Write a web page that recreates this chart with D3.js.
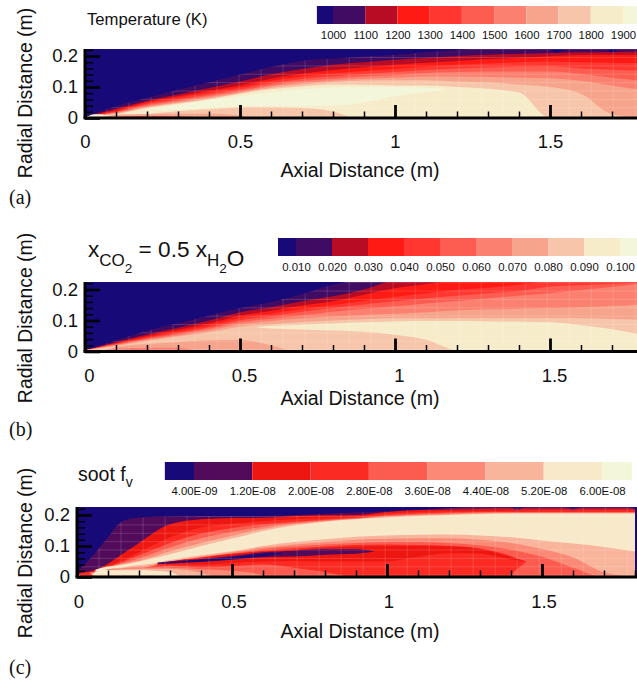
<!DOCTYPE html>
<html>
<head>
<meta charset="utf-8">
<script src="https://cdn.jsdelivr.net/npm/d3@7"></script>
<style>
  html, body { margin: 0; padding: 0; background: #fff; }
  svg { display: block; }
  text { font-family: "Liberation Sans", Arial, sans-serif; fill: #111; }
  .serif { font-family: "Liberation Serif", "Times New Roman", serif; }
</style>
</head>
<body>
<svg width="637" height="680"></svg>
<script>
var svg = d3.select("svg");

// level colours, low to high
const tempColors = ["#170a78", "#400b62", "#b80c25", "#ff1a13", "#ff3730", "#fd5d50", "#fb8070", "#f7a48c", "#f7c6aa", "#f7ecca", "#f4f6da"];
const sootColors = ["#170a78", "#520b5a", "#ee1610", "#fb2a22", "#fc5c50", "#fa8a76", "#f9b49c", "#f7e9c9", "#f4f6da"];

const majorX = [0, 0.5, 1, 1.5];
const minorX = [0.1, 0.2, 0.3, 0.4, 0.6, 0.7, 0.8, 0.9, 1.1, 1.2, 1.3, 1.4, 1.6, 1.7, 1.8];
const majorY = [0, 0.1, 0.2];
const minorY = [0.02, 0.04, 0.06, 0.08, 0.12, 0.14, 0.16, 0.18, 0.22];

// legend tick values and cell edges
const tempTicks = [1000, 1100, 1200, 1300, 1400, 1500, 1600, 1700, 1800, 1900];
const tempEdges = [950, 1000, 1100, 1200, 1300, 1400, 1500, 1600, 1700, 1800, 1900, 1943];
const co2Ticks = [0.01, 0.02, 0.03, 0.04, 0.05, 0.06, 0.07, 0.08, 0.09, 0.1];
const co2Edges = [0.005, 0.01, 0.02, 0.03, 0.04, 0.05, 0.06, 0.07, 0.08, 0.09, 0.1, 0.1047];
const sootTicks = [4e-9, 1.2e-8, 2e-8, 2.8e-8, 3.6e-8, 4.4e-8, 5.2e-8, 6e-8];
const sootEdges = [0, 4e-9, 1.2e-8, 2e-8, 2.8e-8, 3.6e-8, 4.4e-8, 5.2e-8, 6e-8, 6.41e-8];

// (a) temperature: radial top of each level at the stations
const tempX = [0, 0.1, 0.2, 0.3, 0.4, 0.5, 0.6, 0.7, 0.8, 0.9, 1, 1.1, 1.2, 1.3, 1.4, 1.5, 1.6, 1.7, 1.8];
const tempTop1 = [.004, .038, .065, .091, .115, .14, .165, .185, .192, .198, .204, .212, .22, .224, .224, .224, .224, .224, .224];
const tempTop2 = [.004, .03, .056, .076, .097, .118, .141, .158, .172, .18, .188, .194, .2, .204, .207, .21, .212, .213, .215];
const tempTop3 = [.004, .026, .052, .07, .088, .105, .127, .143, .155, .164, .172, .178, .184, .19, .194, .199, .203, .204, .204];
const tempTop4 = [.004, .022, .048, .065, .082, .098, .119, .134, .144, .152, .158, .165, .172, .176, .18, .182, .18, .178, .177];
const tempTop5 = [.004, .02, .044, .06, .076, .092, .112, .126, .135, .142, .148, .155, .16, .163, .165, .167, .16, .156, .153];
const tempTop6 = [.004, .018, .04, .056, .071, .087, .106, .119, .127, .134, .138, .145, .148, .15, .15, .15, .142, .13, .12];
const tempTop7 = [.004, .016, .037, .052, .067, .083, .102, .113, .121, .127, .13, .134, .134, .132, .13, .128, .12, .105, .09];
const tempTop8 = [.004, .014, .034, .048, .063, .08, .097, .108, .116, .121, .122, .122, .118, .115, .108, .1, .078, .012, 0];
const tempTop9 = [.004, .012, .032, .046, .06, .078, .093, .102, .108, .107, .105, .105, .1, .094, .082, 0, 0, 0, 0];
const tempLensX = [.2, .3, .4, .5, .6, .7, .8, .9, 1, 1.1, 1.17];
const tempLensHi = [.026, .043, .057, .07, .083, .092, .098, .1, .1, .097, .093];
const tempLensLo = [.026, .027, .033, .038, .038, .038, .04, .05, .07, .085, .093];
const tempCore8X = [.12, .2, .3, .4, .5, .6, .7, .8, .86];
const tempCore8 = [0, .012, .022, .028, .034, .035, .032, .021, 0];
const tempCore7X = [.05, .1, .2, .3, .4, .5, .55];
const tempCore7 = [0, .011, .013, .014, .014, .008, 0];
const tempCore6X = [.05, .15, .3, .38];
const tempCore6 = [0, .0065, .007, 0];
const tempStripX = [.07, .15, .3, .36];
const tempStrip = [0, .005, .004, 0];
const tempTipX = [.01, .03, .06];
const tempTipHi = [.006, .012, .011];
const tempTipLo = [.004, .004, .007];
const tempBlipX = [1.5, 1.52, 1.56, 1.68, 1.7, 1.72];
const tempBlipLo = [.224, .21, .224, .224, .212, .224];

// (b) CO2 / H2O
const co2X = [0, 0.1, 0.2, 0.3, 0.4, 0.5, 0.6, 0.7, 0.8, 0.9, 1, 1.1, 1.2, 1.3, 1.4, 1.5, 1.6, 1.7, 1.8];
const co2Top1 = [.004, .036, .067, .091, .116, .14, .16, .185, .215, .23, .23, .23, .23, .23, .23, .23, .23, .23, .23];
const co2Top2 = [.004, .03, .055, .077, .1, .127, .143, .162, .178, .2, .228, .23, .23, .23, .23, .23, .23, .23, .23];
const co2Top3 = [.004, .028, .05, .07, .09, .116, .131, .148, .162, .183, .204, .217, .228, .23, .23, .23, .23, .23, .23];
const co2Top4 = [.004, .026, .046, .064, .083, .108, .122, .137, .15, .163, .177, .188, .199, .206, .215, .228, .23, .23, .23];
const co2Top5 = [.004, .024, .043, .06, .078, .1, .114, .128, .14, .152, .162, .172, .18, .188, .195, .21, .214, .218, .222];
const co2Top6 = [.004, .022, .04, .056, .073, .094, .106, .117, .128, .138, .146, .155, .163, .172, .18, .188, .198, .208, .22];
const co2Top7 = [.004, .02, .037, .052, .068, .087, .098, .107, .113, .118, .122, .127, .132, .136, .138, .14, .143, .147, .152];
const co2Top8 = [.004, .018, .034, .048, .062, .08, .088, .095, .1, .104, .107, .107, .108, .108, .108, .108, .107, .105, .102];
const co2LensX = [.55, .6, .7, .8, .9, 1, 1.1, 1.2, 1.3, 1.4, 1.5, 1.6, 1.7, 1.8];
const co2LensHi = [.078, .082, .086, .09, .094, .097, .098, .098, .097, .096, .094, .085, .072, .052];
const co2LensLo = [.078, .074, .071, .068, .064, .054, .038, .004, 0, 0, 0, 0, 0, 0];
const co2Core7X = [.06, .1, .2, .3, .4, .5, .6, .67];
const co2Core7 = [0, .014, .024, .03, .036, .037, .02, 0];
const co2Core6X = [.04, .1, .2, .3, .36];
const co2Core6 = [0, .01, .012, .012, 0];
const co2StripX = [.06, .15, .3, .34];
const co2Strip = [0, .006, .004, 0];

// (c) soot volume fraction
const sootX = [0, .05, .1, .14, .2, .3, .4, .5, .6, .7, .8, .9, 1, 1.1, 1.2, 1.3, 1.4, 1.5, 1.6, 1.7, 1.8];
const sootTop1 = [.018, .068, .128, .176, .192, .195, .197, .197, .197, .2, .204, .208, .212, .217, .222, .228, .23, .23, .23, .23, .23];
const sootTop2 = [.01, .02, .043, .07, .11, .17, .186, .19, .191, .197, .199, .2, .21, .216, .218, .219, .22, .22, .22, .22, .22];
const sootTop3 = [.008, .018, .036, .052, .08, .128, .16, .172, .18, .186, .19, .195, .205, .21, .212, .213, .214, .215, .215, .215, .215];
const sootTop4 = [.006, .016, .033, .046, .07, .11, .14, .158, .17, .178, .185, .19, .2, .205, .208, .21, .21, .21, .21, .21, .21];
const sootTop5 = [.005, .014, .031, .043, .06, .095, .125, .145, .162, .173, .182, .189, .197, .202, .205, .207, .208, .208, .208, .208, .208];
const sootTop6 = [.004, .012, .029, .04, .052, .083, .11, .133, .155, .17, .18, .187, .194, .199, .202, .205, .206, .206, .206, .206, .206];
const sootCreamX = [.06, .08, .14, .2, .3, .4, .5, .6, .7, .8, .9, 1, 1.1, 1.2, 1.3, 1.4, 1.5, 1.6, 1.7, 1.8];
const sootCream = [.024, .03, .038, .05, .073, .1, .124, .148, .166, .178, .186, .192, .197, .2, .203, .205, .205, .205, .205, .205];
const sootUnderX = [.06, .1, .14, .18, .22, .3, .4, .5, .6, .7, .8, .9, 1, 1.1, 1.2, 1.3, 1.4, 1.5, 1.6, 1.7, 1.8];
const sootUnder6 = [.02, .026, .03, .036, .04, .055, .07, .083, .1, .113, .122, .13, .134, .136, .137, .134, .128, .118, .108, .097, .082];
const sootUnder5 = [.012, .02, .026, .032, .035, .05, .066, .08, .095, .105, .113, .12, .123, .125, .125, .12, .11, .09, .063, .015, 0];
const sootUnder4 = [.008, .016, .022, .027, .03, .048, .063, .076, .09, .098, .105, .11, .113, .113, .11, .102, .088, .065, .03, 0, 0];
const sootLens3X = [.1, .22, .3, .4, .5, .6, .7, .8, .9, 1, 1.1, 1.2, 1.3, 1.38, 1.42, 1.45];
const sootLens3Hi = [.02, .03, .046, .06, .072, .085, .092, .098, .103, .105, .103, .1, .092, .074, .06, .05];
const sootLens3Lo = [.02, .03, .036, .032, .035, .04, .03, .016, 0, 0, 0, 0, 0, 0, .026, .05];
const sootLens2X = [.25, .3, .4, .5, .6, .7, .8, .9, 1, 1.1, 1.2, 1.3, 1.38, 1.45];
const sootLens2Hi = [.04, .05, .063, .075, .082, .088, .094, .098, .1, .1, .099, .09, .07, .05];
const sootLens2Lo = [.04, .04, .04, .045, .05, .052, .05, .05, .05, .065, .077, .076, .06, .05];
const sootLens1X = [.26, .35, .42, .5, .6, .7, .8, .9, .96];
const sootLens1Hi = [.047, .054, .06, .068, .08, .085, .09, .09, .082];
const sootLens1Lo = [.041, .046, .05, .056, .064, .066, .072, .075, .082];
const sootLens0X = [.3, .4, .5, .6, .66];
const sootLens0Hi = [.047, .056, .064, .075, .078];
const sootLens0Lo = [.045, .05, .057, .067, .076];
const sootBed5X = [.04, .1, .2, .3, .4, .5, .6, .62];
const sootBed5 = [0, .025, .03, .03, .025, .02, .006, 0];
const sootBed6X = [.05, .1, .2, .3, .4, .44];
const sootBed6 = [0, .022, .026, .026, .014, 0];
const sootSpotX = [.01, .03, .05];
const sootSpot = [.012, .016, .006];
const sootStripX = [.05, .08, .1, .2, .3, .33];
const sootStripHi = [.006, .028, .022, .022, .016, .003];
const sootStripLo = [.006, .006, .006, .005, .003, .003];
const sootBlipX = [1.2, 1.3, 1.38, 1.42, 1.46, 1.56, 1.6, 1.64, 1.76, 1.8];
const sootBlipLo = [.23, .23, .23, .218, .23, .23, .218, .23, .23, .218];

const meshX = d3.range(0, 1.8, 0.071);
const meshY = d3.range(0.006, 0.23, 0.027);

// one painted band, from lo (or the axis) up to hi
function layer(c, xs, hi, lo) {
  return {
    color: c,
    pts: xs.map((x, i) => ({ x: x, hi: hi[i], lo: lo ? lo[i] : 0 }))
  };
}

const tc = tempColors, sc = sootColors;

const tempLayers = [
  layer(tc[1], tempX, tempTop1), layer(tc[2], tempX, tempTop2), layer(tc[3], tempX, tempTop3),
  layer(tc[4], tempX, tempTop4), layer(tc[5], tempX, tempTop5), layer(tc[6], tempX, tempTop6),
  layer(tc[7], tempX, tempTop7), layer(tc[8], tempX, tempTop8), layer(tc[9], tempX, tempTop9),
  layer(tc[10], tempLensX, tempLensHi, tempLensLo),
  layer(tc[8], tempCore8X, tempCore8), layer(tc[7], tempCore7X, tempCore7),
  layer(tc[6], tempCore6X, tempCore6), layer(tc[3], tempStripX, tempStrip),
  layer(tc[10], tempTipX, tempTipHi, tempTipLo),
  layer(tc[0], tempBlipX, tempBlipX.map(() => .224), tempBlipLo)
];

const co2Layers = [
  layer(tc[1], co2X, co2Top1), layer(tc[2], co2X, co2Top2), layer(tc[3], co2X, co2Top3),
  layer(tc[4], co2X, co2Top4), layer(tc[5], co2X, co2Top5), layer(tc[6], co2X, co2Top6),
  layer(tc[7], co2X, co2Top7), layer(tc[8], co2X, co2Top8),
  layer(tc[9], co2LensX, co2LensHi, co2LensLo),
  layer(tc[7], co2Core7X, co2Core7), layer(tc[6], co2Core6X, co2Core6),
  layer(tc[3], co2StripX, co2Strip)
];

const sootLayers = [
  layer(sc[1], sootX, sootTop1), layer(sc[2], sootX, sootTop2), layer(sc[3], sootX, sootTop3),
  layer(sc[4], sootX, sootTop4), layer(sc[5], sootX, sootTop5), layer(sc[6], sootX, sootTop6),
  layer(sc[7], sootCreamX, sootCream),
  layer(sc[6], sootUnderX, sootUnder6), layer(sc[5], sootUnderX, sootUnder5), layer(sc[4], sootUnderX, sootUnder4),
  layer(sc[3], sootLens3X, sootLens3Hi, sootLens3Lo), layer(sc[2], sootLens2X, sootLens2Hi, sootLens2Lo),
  layer(sc[1], sootLens1X, sootLens1Hi, sootLens1Lo), layer(sc[0], sootLens0X, sootLens0Hi, sootLens0Lo),
  layer(sc[5], sootBed5X, sootBed5), layer(sc[6], sootBed6X, sootBed6),
  layer(sc[3], sootSpotX, sootSpot),
  layer(sc[7], sootStripX, sootStripHi, sootStripLo),
  layer(sc[0], sootBlipX, sootBlipX.map(() => .23), sootBlipLo)
];

const sootFormat = v => v.toExponential(2).toUpperCase().replace(/E-(\d)$/, "E-0$1");

function drawPanel(id, p) {
  var x = d3.scaleLinear().domain([0, 1.8]).range([p.left, p.left + 1.8 * 310]);
  var y = d3.scaleLinear().domain([0, 0.2]).range([p.bottom, p.bottom - 62]);
  var g = svg.append("g").attr("id", id);

  g.append("clipPath").attr("id", id + "-clip").append("rect")
    .attr("x", p.left).attr("y", p.top)
    .attr("width", p.right - p.left).attr("height", p.bottom - p.top);

  var plot = g.append("g").attr("clip-path", "url(#" + id + "-clip)");
  plot.append("rect")
    .attr("x", p.left).attr("y", p.top)
    .attr("width", p.right - p.left).attr("height", p.bottom - p.top)
    .attr("fill", p.colors[0]);

  var area = d3.area()
    .x(d => x(d.x))
    .y0(d => y(d.lo))
    .y1(d => y(d.hi))
    .curve(d3.curveMonotoneX);

  plot.selectAll("path.band")
    .data(p.layers)
    .enter()
    .append("path")
    .attr("class", "band")
    .attr("fill", d => d.color)
    .attr("d", d => area(d.pts));

  // faint solver mesh, only inside the flame envelope
  g.append("clipPath").attr("id", id + "-mesh").append("path").attr("d", area(p.layers[0].pts));
  var mesh = plot.append("g")
    .attr("clip-path", "url(#" + id + "-mesh)")
    .attr("stroke", "#fff").attr("stroke-opacity", 0.15).attr("stroke-width", 1);
  mesh.selectAll("line.mx").data(meshX).enter().append("line").attr("class", "mx")
    .attr("x1", d => x(d)).attr("x2", d => x(d)).attr("y1", p.top).attr("y2", p.bottom);
  mesh.selectAll("line.my").data(meshY).enter().append("line").attr("class", "my")
    .attr("x1", p.left).attr("x2", p.right).attr("y1", d => y(d)).attr("y2", d => y(d));

  // ticks point into the plot
  function ticks(axis, vals, size, w) {
    return function (sel) {
      sel.call(axis.tickValues(vals).tickSize(size).tickFormat(""));
      sel.select(".domain").remove();
      sel.selectAll("line").attr("stroke", "#000").attr("stroke-width", w);
    };
  }
  g.append("g").attr("transform", "translate(0," + p.bottom + ")")
    .call(ticks(d3.axisTop(x), minorX.filter(d => x(d) <= p.right), 6.5, 1.5));
  g.append("g").attr("transform", "translate(0," + p.bottom + ")")
    .call(ticks(d3.axisTop(x), majorX, 13, 2.8));
  g.append("g").attr("transform", "translate(" + p.left + ",0)")
    .call(ticks(d3.axisRight(y), minorY, 8, 1.5));
  g.append("g").attr("transform", "translate(" + p.left + ",0)")
    .call(ticks(d3.axisRight(y), majorY, 15, 2.6));

  g.append("line").attr("x1", p.left - 1.5).attr("x2", p.right)
    .attr("y1", p.bottom).attr("y2", p.bottom)
    .attr("stroke", "#000").attr("stroke-width", 3);
  g.append("line").attr("x1", p.left).attr("x2", p.left)
    .attr("y1", p.top).attr("y2", p.bottom)
    .attr("stroke", "#000").attr("stroke-width", 3);

  // tick labels
  var xl = g.append("g").attr("transform", "translate(" + p.xLabelDx + "," + p.bottom + ")")
    .call(d3.axisBottom(x).tickValues(majorX).tickSize(0).tickFormat(d3.format("~g")));
  xl.select(".domain").remove();
  xl.selectAll("text").attr("y", p.tickBase - p.bottom).attr("dy", 0)
    .attr("font-size", 18.5).style("font-family", "'Liberation Sans'");

  var yl = g.append("g").attr("transform", "translate(" + p.yLabelX + ",0)")
    .call(d3.axisLeft(y).tickValues(majorY).tickSize(0).tickFormat(d3.format("~g")));
  yl.select(".domain").remove();
  yl.selectAll("text").attr("x", 0).attr("font-size", 18.5).style("font-family", "'Liberation Sans'");

  g.append("text").attr("x", 360).attr("y", p.axialBase)
    .attr("text-anchor", "middle").attr("font-size", 19.6)
    .text("Axial Distance (m)");
  g.append("text")
    .attr("transform", "translate(32," + p.radialMid + ") rotate(-90)")
    .attr("text-anchor", "middle").attr("font-size", 19.4)
    .text("Radial Distance (m)");
  g.append("text").attr("class", "serif").attr("x", 9).attr("y", p.tagBase)
    .attr("font-size", 20).text(p.tag);

  // legend
  var lx = d3.scaleLinear().domain(p.legendDomain).range(p.legendRange);
  var cells = p.edges.slice(1).map((e, i) => [p.edges[i], e]);
  var lg = g.append("g").attr("class", "legend");
  lg.selectAll("rect").data(cells).enter().append("rect")
    .attr("x", d => lx(d[0]))
    .attr("width", d => lx(d[1]) - lx(d[0]))
    .attr("y", p.legendTop).attr("height", 18)
    .attr("fill", (d, i) => p.colors[i]);
  var la = lg.append("g").attr("transform", "translate(0," + (p.legendTop + 18) + ")")
    .call(d3.axisBottom(lx).tickValues(p.legendTicks).tickSize(0).tickFormat(p.legendFormat));
  la.select(".domain").remove();
  la.selectAll("text").attr("y", 15).attr("dy", 0).attr("font-size", 11.4)
    .style("font-family", "'Liberation Sans'");
  return g;
}

drawPanel("panel-a", {
  left: 85, right: 637, top: 49, bottom: 118, colors: tempColors, layers: tempLayers,
  tickBase: 148, yLabelX: 78, xLabelDx: 0, axialBase: 177, radialMid: 93, tag: "(a)", tagBase: 204,
  legendDomain: [1000, 1900], legendRange: [333, 623], legendTop: 6, edges: tempEdges,
  legendTicks: tempTicks, legendFormat: d3.format("d")
});
drawPanel("panel-b", {
  left: 85, right: 637, top: 282, bottom: 351.5, colors: tempColors, layers: co2Layers,
  tickBase: 382, yLabelX: 78, xLabelDx: 4, axialBase: 405, radialMid: 318, tag: "(b)", tagBase: 436,
  legendDomain: [0.01, 0.1], legendRange: [296, 620], legendTop: 238, edges: co2Edges,
  legendTicks: co2Ticks, legendFormat: d3.format(".3f")
});
drawPanel("panel-c", {
  left: 77, right: 637, top: 507, bottom: 577, colors: sootColors, layers: sootLayers,
  tickBase: 608, yLabelX: 70, xLabelDx: 1.5, axialBase: 638, radialMid: 553, tag: "(c)", tagBase: 674,
  legendDomain: [4e-9, 6e-8], legendRange: [194, 602], legendTop: 462, edges: sootEdges,
  legendTicks: sootTicks, legendFormat: sootFormat
});

// panel titles
svg.append("text").attr("x", 87).attr("y", 25).attr("font-size", 16.7).text("Temperature (K)");

var t2 = svg.append("text").attr("x", 88).attr("y", 257).attr("font-size", 22.6);
t2.append("tspan").text("x");
t2.append("tspan").attr("dy", 9).attr("font-size", 17).text("CO");
t2.append("tspan").attr("dy", 7).attr("font-size", 13.5).text("2");
t2.append("tspan").attr("dy", -16).text(" = 0.5 x");
t2.append("tspan").attr("dy", 9).attr("font-size", 17).text("H");
t2.append("tspan").attr("dy", 7).attr("font-size", 13.5).text("2");
t2.append("tspan").attr("dy", -7).text("O");

var t3 = svg.append("text").attr("x", 78).attr("y", 481).attr("font-size", 19.5);
t3.append("tspan").text("soot f");
t3.append("tspan").attr("dy", 6).attr("font-size", 14).text("v");
</script>
</body>
</html>
